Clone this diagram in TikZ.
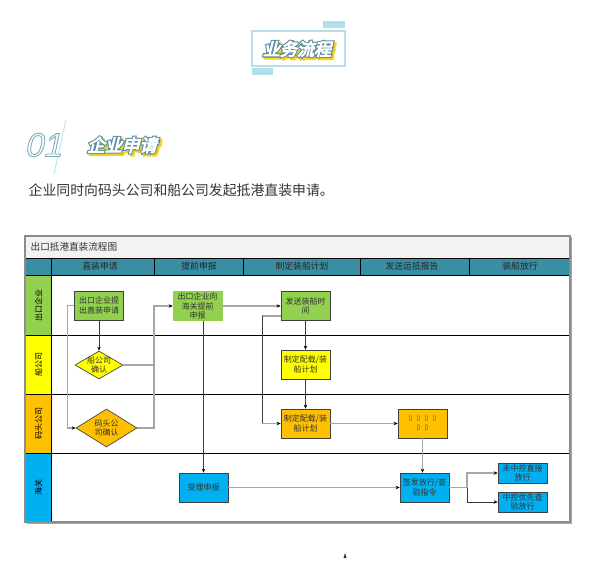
\documentclass[tikz,border=0pt]{standalone}
\usepackage{fontspec}
\setmainfont{Noto Sans CJK SC}
\newfontfamily\artfont[FakeSlant=0.25]{Noto Sans CJK SC}
\newfontfamily\numfont[FakeSlant=0.22]{Liberation Sans}
\newfontfamily\symfont{DejaVu Sans}
\usetikzlibrary{shapes.geometric,arrows.meta,positioning}

\definecolor{lanegreen}{HTML}{92D050}
\definecolor{laneyellow}{HTML}{FFFF00}
\definecolor{laneorange}{HTML}{FFC000}
\definecolor{laneblue}{HTML}{00B0F0}
\definecolor{headteal}{HTML}{3A8EA3}
\definecolor{titlegray}{HTML}{F2F2F2}
\definecolor{boxline}{HTML}{404040}
\definecolor{lightline}{HTML}{A6A6A6}
\definecolor{darkline}{HTML}{3A3A3A}
\definecolor{barblue}{HTML}{B4DEE9}
\definecolor{titleyellow}{HTML}{F6D21E}
\definecolor{titleblue}{HTML}{5A8D9E}
\definecolor{bodygray}{HTML}{333333}
\definecolor{framegray}{HTML}{8C8C8C}

\newcommand{\boxfont}{\fontsize{6pt}{7.2pt}\selectfont}
\newcommand{\headfont}{\fontsize{6.6pt}{8pt}\selectfont}
% outlined glyphs: fill, then stroke
\newcommand{\strokeon}[2]{\special{pdf:literal direct 2 Tr #1 w #2 RG}}
\newcommand{\strokeoff}{\special{pdf:literal direct 0 Tr}}

\newcommand{\artword}[4]{%
  \node[font=#3,text=titleyellow,shift={(2,2)}] (#1s) at (#2)
    {\strokeon{2.4}{0.965 0.824 0.118}#4\strokeoff};
  \node[font=#3,text=titleblue] (#1o) at (#2) {\strokeon{2.3}{0.353 0.553 0.620}#4\strokeoff};
  \node[font=#3,text=white] (#1) at (#2) {\strokeon{0.7}{1 1 1}#4\strokeoff};}

\begin{document}
\begin{tikzpicture}[x=0.75pt,y=-0.75pt,
  lane/.style={black,line width=0.6pt},
  box/.style={draw=boxline,line width=0.5pt,minimum width=36.75pt,minimum height=21.75pt,
    inner sep=0pt,align=center,font=\boxfont,text=bodygray},
  dia/.style={diamond,draw=boxline,line width=0.5pt,inner sep=0pt},
  lightln/.style={lightline,line width=0.8pt},
  darkln/.style={darkline,line width=0.6pt},
  >={Stealth[length=3pt,width=2.6pt,color=black]}]
  \useasboundingbox (0,0) rectangle (609,566);

  \fill[barblue] (323,21) rectangle (345,28);
  \fill[barblue] (252,68) rectangle (273,75);
  \draw[barblue,line width=0.9pt] (252,31) rectangle (345,66);
  \artword{flowtitle}{297,49}{\artfont\fontsize{12.8pt}{14pt}\selectfont}{业务流程}

  \draw[barblue,line width=0.6pt] (66,120) -- (54,174);
  \node[font=\numfont\fontsize{25pt}{26pt}\selectfont,text=white!90!barblue] (num) at (43,145)
    {\strokeon{0.7}{0.52 0.68 0.74}01\strokeoff};
  \artword{steptitle}{122,145}{\artfont\fontsize{13pt}{14pt}\selectfont}{企业申请}
  \node[anchor=west,font=\fontsize{10.4pt}{12pt}\selectfont,text=bodygray] (intro) at (24,190)
    {企业同时向码头公司和船公司发起抵港直装申请。};

  \fill[white] (25,236) rectangle (570,522);
  \fill[titlegray] (26,237) rectangle (569,258);
  \fill[headteal] (26,258) rectangle (569,275);
  \fill[lanegreen] (26,275) rectangle (51,335);
  \fill[laneyellow] (26,335) rectangle (51,394);
  \fill[laneorange] (26,394) rectangle (51,453);
  \fill[laneblue] (26,453) rectangle (51,522);
  \draw[lane] (26,258) -- (569,258);
  \foreach \yy in {275,335,394,453} \draw[lane] (26,\yy) -- (569,\yy);
  \draw[lane] (51,258) -- (51,522);
  \foreach \xx in {154,243,360,469} \draw[lane] (\xx,258) -- (\xx,275);
  \draw[framegray,line width=0.8pt] (25,236) rectangle (570,522);
  \draw[lightline,line width=0.8pt] (571.5,237.5) -- (571.5,523.5) -- (26.5,523.5);

  \node[anchor=west,font=\fontsize{7.2pt}{8pt}\selectfont,text=bodygray] (charttitle) at (26,247) {出口抵港直装流程图};
  \node[font=\headfont,text=black!85] (colA) at (100,266.5) {直装申请};
  \node[font=\headfont,text=black!85] (colB) at (199,266.5) {提前申报};
  \node[font=\headfont,text=black!85] (colC) at (302,266.5) {制定装船计划};
  \node[font=\headfont,text=black!85] (colD) at (412,266.5) {发送运抵报告};
  \node[font=\headfont,text=black!85] (colE) at (520,266.5) {装船放行};

  \node[font=\boxfont,rotate=90] (laneA) at (38.5,305) {出口企业};
  \node[font=\boxfont,rotate=90] (laneB) at (38.5,364.5) {船公司};
  \node[font=\boxfont,rotate=90] (laneC) at (38.5,423.5) {码头公司};
  \node[font=\boxfont,rotate=90] (laneD) at (38.5,487.5) {海关};

  \node[box,fill=lanegreen] (apply) at (99,305.5) {出口企业提\\出直装申请};
  \node[dia,fill=laneyellow,minimum width=36pt,minimum height=21pt,
    label={[font=\boxfont,align=center,text=bodygray]center:船公司\\确认}] (shipok) at (99,365) {};
  \node[dia,fill=laneorange,minimum width=45.75pt,minimum height=28.5pt,
    label={[font=\boxfont,align=center,text=bodygray]center:码头公\\司确认}] (portok) at (106.5,428) {};
  \node[box,fill=lanegreen,draw=lanegreen] (predecl) at (197.5,306) {出口企业向\\海关提前\\申报};
  \node[box,fill=lanegreen] (sendtime) at (305.5,306) {发送装船时\\间};
  \node[box,fill=laneyellow] (planship) at (305.5,364.5) {制定配载/装\\船计划};
  \node[box,fill=laneorange] (planport) at (305.5,423.5) {制定配载/装\\船计划};
  \node[box,fill=laneorange,font=\symfont\fontsize{5pt}{7pt}\selectfont,text=black!70] (arrival) at (422.5,423.5)
    {▯\ \ ▯\ \ ▯\ \ ▯\\▯\ \ ▯};
  \node[box,fill=laneblue] (accept) at (203.5,487.5) {受理申报};
  \node[box,fill=laneblue] (issue) at (424.5,487.5) {签发放行/查\\验指令};
  \node[box,fill=laneblue,minimum height=15pt] (direct) at (522.5,473) {未中控直接\\放行};
  \node[box,fill=laneblue,minimum height=15pt] (inspect) at (522.5,502) {中控优先查\\验放行};

  \coordinate (midx) at (154,428);
  \coordinate (bendA) at (262,316);
  \coordinate (bendB) at (262,423.5);
  \coordinate (split) at (467,487.5);

  \draw[darkln,->] (apply) -- (shipok);
  \draw[lightln,->] (apply.west) -- ++(-7,0) |- (portok.west);
  \draw[lightln] (shipok.east) -- (shipok.east -| midx);
  \draw[lightln,->] (portok.east) -- (midx) |- (predecl.west);
  \draw[lightln,->] (predecl) -- (sendtime);
  \draw[darkln,->] (predecl.south -| accept.north) -- (accept.north);
  \draw[lightln] (sendtime.west |- bendA) -- (bendA);
  \draw[darkln] (bendA) -- (bendB);
  \draw[lightln,->] (bendB) -- (planport.west);
  \draw[darkln,->] (sendtime) -- (planship);
  \draw[darkln,->] (planship) -- (planport);
  \draw[lightln,->] (planport) -- (arrival);
  \draw[lightln,->] (arrival.south) -- (arrival.south |- issue.north);
  \draw[lightln,->] (accept) -- (issue);
  \draw[lightln] (issue.east) -- (split);
  \draw[lightln,->] (split) |- (direct.west);
  \draw[darkln,->] (split) |- (inspect.west);

  \fill[black!80] (343.5,558) -- (345,553) -- (346.5,558) -- cycle;
\end{tikzpicture}
\end{document}
